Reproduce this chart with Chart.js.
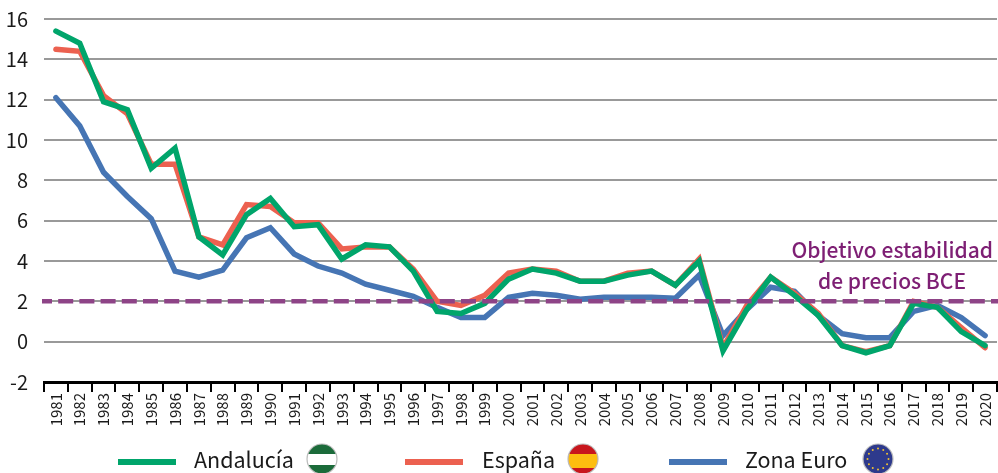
<!DOCTYPE html>
<html><head><meta charset="utf-8">
<script src="https://cdn.jsdelivr.net/npm/chart.js@4"></script>
<style>html,body{margin:0;padding:0;background:#fff}canvas{display:block}</style>
</head><body>
<canvas id="c" width="998" height="473"></canvas>
<script>
const years=[1981,1982,1983,1984,1985,1986,1987,1988,1989,1990,1991,1992,1993,1994,1995,1996,1997,1998,1999,2000,2001,2002,2003,2004,2005,2006,2007,2008,2009,2010,2011,2012,2013,2014,2015,2016,2017,2018,2019,2020].map(String);
const andalucia=[15.4,14.8,11.9,11.5,8.6,9.6,5.2,4.3,6.3,7.1,5.7,5.8,4.1,4.8,4.7,3.5,1.5,1.4,1.9,3.1,3.6,3.4,3.0,3.0,3.3,3.5,2.8,4.0,-0.45,1.6,3.2,2.3,1.3,-0.2,-0.55,-0.2,1.9,1.7,0.5,-0.2];
const espana=[14.5,14.4,12.2,11.3,8.8,8.8,5.2,4.8,6.8,6.7,5.9,5.9,4.6,4.7,4.7,3.6,2.0,1.8,2.3,3.4,3.6,3.5,3.0,3.0,3.4,3.5,2.8,4.1,-0.3,1.8,3.2,2.4,1.4,-0.2,-0.5,-0.2,2.0,1.7,0.7,-0.3];
const zonaEuro=[12.1,10.7,8.4,7.2,6.1,3.5,3.2,3.55,5.15,5.65,4.35,3.75,3.4,2.85,2.55,2.25,1.7,1.2,1.2,2.2,2.4,2.3,2.1,2.2,2.2,2.2,2.15,3.3,0.3,1.6,2.7,2.5,1.3,0.4,0.2,0.2,1.5,1.8,1.2,0.3];
const objetivo=2;
const objetivoLines=["Objetivo estabilidad","de precios BCE"];
const legendNames=["Andalucía","España","Zona Euro"];
const FONT='"Noto Sans CJK SC","Noto Sans",sans-serif';
const GREEN='#00A56B',RED='#EC6150',BLUE='#4675B4',PURPLE='#8E4487',TXT='#1a1a1a';

function flagCircle(ctx,cx,cy,r,paint){
  ctx.save();ctx.beginPath();ctx.arc(cx,cy,r,0,Math.PI*2);ctx.clip();paint();ctx.restore();
  ctx.beginPath();ctx.arc(cx,cy,r,0,Math.PI*2);ctx.strokeStyle='#bdbdbd';ctx.lineWidth=1.2;ctx.stroke();
}
const overlay={
  id:'overlay',
  afterDatasetsDraw(chart){
    const ctx=chart.ctx,y=chart.scales.y.getPixelForValue(objetivo);
    ctx.save();
    ctx.strokeStyle=PURPLE;ctx.lineWidth=4.5;ctx.setLineDash([15,6.2]);ctx.lineDashOffset=5;
    ctx.beginPath();ctx.moveTo(42,y);ctx.lineTo(998,y);ctx.stroke();ctx.setLineDash([]);
    ctx.fillStyle='#7E1F74';ctx.font='500 21px '+FONT;ctx.textAlign='right';ctx.textBaseline='alphabetic';
    ctx.fillText(objetivoLines[0],993,258);
    ctx.fillText(objetivoLines[1],966,289);
    const items=[[118,194,GREEN],[405,482,RED],[669,745,BLUE]];
    ctx.font='21.5px '+FONT;ctx.textAlign='left';
    items.forEach((it,i)=>{
      ctx.fillStyle=it[2];ctx.fillRect(it[0],459,58,6);
      ctx.fillStyle=TXT;ctx.fillText(legendNames[i],it[1],468);
    });
    flagCircle(ctx,322,459,15,()=>{ctx.fillStyle='#1B6B3A';ctx.fillRect(300,440,44,40);ctx.fillStyle='#fff';ctx.fillRect(300,454,44,11);});
    flagCircle(ctx,583,459,15,()=>{ctx.fillStyle='#C8161D';ctx.fillRect(560,440,46,40);ctx.fillStyle='#FDBE10';ctx.fillRect(560,454,46,14);});
    flagCircle(ctx,878,459,15,()=>{
      ctx.fillStyle='#2E3A8C';ctx.fillRect(860,440,40,40);ctx.fillStyle='#F2C230';
      for(let k=0;k<12;k++){const a=k*Math.PI/6;ctx.beginPath();ctx.arc(878+10.5*Math.cos(a),459+10.5*Math.sin(a),1,0,Math.PI*2);ctx.fill();}
    });
    ctx.restore();
  }
};
const line=(label,data,color)=>({label,data,borderColor:color,backgroundColor:color,borderWidth:5.5,pointRadius:0,tension:0,borderCapStyle:'round',borderJoinStyle:'miter'});
new Chart(document.getElementById('c'),{
  type:'line',
  data:{labels:years,datasets:[line('Andalucía',andalucia,GREEN),line('España',espana,RED),line('Zona Euro',zonaEuro,BLUE)]},
  plugins:[overlay],
  options:{
    responsive:false,animation:false,
    layout:{padding:{top:19,right:1,bottom:0,left:0}},
    plugins:{legend:{display:false},tooltip:{enabled:false},title:{display:false}},
    scales:{
      x:{
        offset:true,
        grid:{drawOnChartArea:false,offset:true,color:'#000',lineWidth:2,tickLength:10},
        border:{color:'#000',width:3},
        afterFit(s){s.height=91;s.paddingLeft=0;s.paddingRight=0;},
        ticks:{autoSkip:false,maxRotation:90,minRotation:90,color:TXT,font:{family:FONT,size:15},padding:1}
      },
      y:{
        min:-2,max:16,
        grid:{color:'#999',lineWidth:2,drawTicks:false},
        border:{display:false},
        afterFit(s){s.width=44;s.paddingTop=0;s.paddingBottom=0;},
        ticks:{stepSize:2,color:TXT,font:{family:FONT,size:20},padding:16}
      }
    }
  }
});
</script>
</body></html>
